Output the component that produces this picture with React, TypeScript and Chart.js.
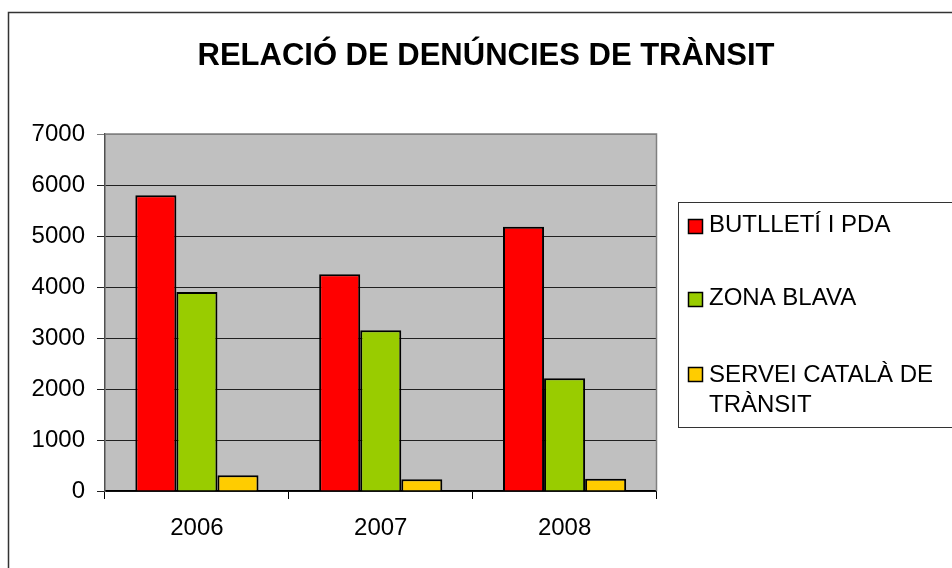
import React, { useEffect, useRef } from "react";
import { Chart, registerables } from "chart.js";

Chart.register(...registerables);

const TITLE = "RELACIÓ DE DENÚNCIES DE TRÀNSIT";
const YEARS = ["2006", "2007", "2008"];
const SERIES_NAMES = ["BUTLLETÍ I PDA", "ZONA BLAVA", "SERVEI CATALÀ DE TRÀNSIT"];
const LEGEND_LINES = [["BUTLLETÍ I PDA"], ["ZONA BLAVA"], ["SERVEI CATALÀ DE", "TRÀNSIT"]];
const BUTLLETI = [5800, 4250, 5180];
const ZONA_BLAVA = [3900, 3150, 2210];
const SERVEI_CATALA = [310, 230, 240];
const Y_MIN = 0;
const Y_MAX = 7000;
const Y_STEP = 1000;
const COLORS = ["#FF0000", "#99CC00", "#FFCC00"];

const FONT = "'Liberation Sans', Arial, sans-serif";

const framePlugin = {
  id: "frame",
  beforeDraw(chart: any) {
    const { ctx, chartArea } = chart;
    ctx.save();
    ctx.fillStyle = "#ffffff";
    ctx.fillRect(0, 0, chart.width, chart.height);
    // outer frame
    ctx.strokeStyle = "#333333";
    ctx.lineWidth = 1.5;
    ctx.beginPath();
    ctx.moveTo(8.5, chart.height + 5);
    ctx.lineTo(8.5, 12.5);
    ctx.lineTo(chart.width + 5, 12.5);
    ctx.stroke();
    // title
    ctx.fillStyle = "#000";
    ctx.font = `bold 31px ${FONT}`;
    ctx.textAlign = "center";
    ctx.textBaseline = "alphabetic";
    ctx.fillText(TITLE, 486, 65);
    // plot background
    ctx.fillStyle = "#C0C0C0";
    ctx.fillRect(chartArea.left, chartArea.top, chartArea.right - chartArea.left, chartArea.bottom - chartArea.top);
    ctx.restore();
  },
  afterDatasetsDraw(chart: any) {
    const { ctx, chartArea } = chart;
    ctx.save();
    ctx.strokeStyle = "#808080";
    ctx.lineWidth = 1.5;
    ctx.beginPath();
    ctx.moveTo(chartArea.left, chartArea.top);
    ctx.lineTo(chartArea.right, chartArea.top);
    ctx.lineTo(chartArea.right, chartArea.bottom);
    ctx.stroke();
    ctx.restore();
  },
  afterDraw(chart: any) {
    const { ctx } = chart;
    ctx.save();
    // legend box
    ctx.strokeStyle = "#333333";
    ctx.lineWidth = 1;
    ctx.strokeRect(678.5, 202.5, 290, 225);
    const squareTops = [219, 292, 367];
    const baselines = [[232], [305], [382, 412]];
    chart.data.datasets.forEach((ds: any, i: number) => {
      ctx.fillStyle = ds.backgroundColor;
      ctx.fillRect(688, squareTops[i], 15, 15);
      ctx.strokeStyle = "#000";
      ctx.lineWidth = 1.5;
      ctx.strokeRect(688.5, squareTops[i] + 0.5, 14, 14);
      ctx.fillStyle = "#000";
      ctx.font = `24px ${FONT}`;
      ctx.textBaseline = "alphabetic";
      ctx.textAlign = "left";
      LEGEND_LINES[i].forEach((line, j) => {
        ctx.fillText(line, 709, baselines[i][j]);
      });
    });
    ctx.restore();
  },
};

export default function App() {
  const ref = useRef<HTMLCanvasElement>(null);
  useEffect(() => {
    document.body.style.margin = "0";
    document.documentElement.style.overflow = "hidden";
    const values = [BUTLLETI, ZONA_BLAVA, SERVEI_CATALA];
    const chart = new Chart(ref.current!, {
      type: "bar",
      data: {
        labels: YEARS,
        datasets: SERIES_NAMES.map((name, i) => ({
          label: name,
          data: values[i],
          backgroundColor: COLORS[i],
          borderColor: "#000",
          borderWidth: 2,
          categoryPercentage: 0.67,
          barPercentage: 1,
        })),
      },
      options: {
        responsive: false,
        animation: false,
        layout: { padding: { left: 0, right: 295.5, top: 134, bottom: 0 } },
        plugins: {
          legend: { display: false },
          tooltip: { enabled: false },
          title: { display: false },
        },
        scales: {
          x: {
            grid: { display: true, drawOnChartArea: false, drawTicks: true, tickLength: 8, color: "#000", offset: true },
            border: { display: true, color: "#000", width: 1.5 },
            ticks: { color: "#000", font: { family: FONT, size: 24 }, padding: 15 },
            afterFit: (s: any) => { s.height = 77; },
          },
          y: {
            min: Y_MIN,
            max: Y_MAX,
            grid: {
              color: (c: any) => (c.tick && c.tick.value === Y_MAX ? "#808080" : "#202020"),
              lineWidth: 1,
              tickLength: 8,
              drawTicks: true,
            },
            border: { display: true, color: "#505050", width: 1.5 },
            ticks: {
              stepSize: Y_STEP,
              color: "#000",
              font: { family: FONT, size: 24 },
              padding: 12,
              callback: (v: any) => String(v),
            },
            afterFit: (s: any) => { s.width = 105; },
          },
        },
      },
      plugins: [framePlugin],
    });
    return () => chart.destroy();
  }, []);
  return <canvas ref={ref} width={952} height={568} style={{ display: "block" }} />;
}
